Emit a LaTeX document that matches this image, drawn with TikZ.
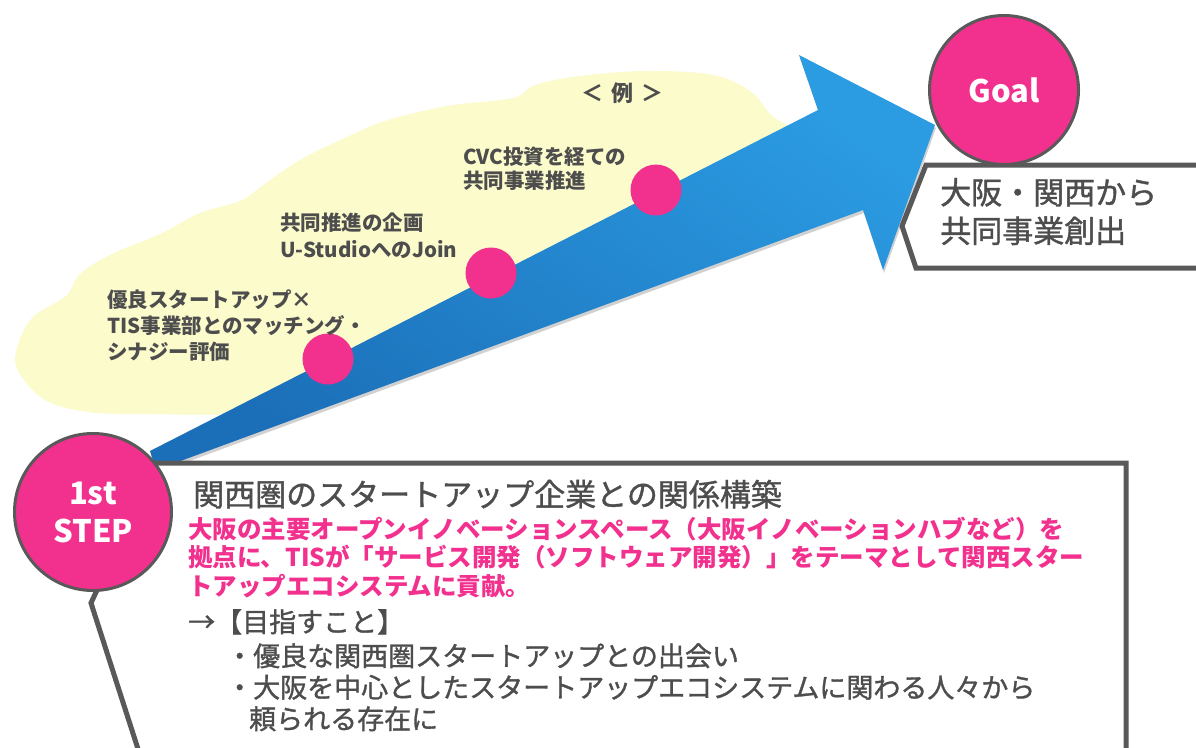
\documentclass[tikz,border=0pt]{standalone}
\usepackage{fontspec}
\setmainfont{Noto Sans CJK JP}
\newfontfamily\mediumfont[FakeBold=1.2]{Noto Sans CJK JP}
\usepackage{tikz}
\usetikzlibrary{positioning,calc}

\definecolor{stepPink}{HTML}{F2318F}
\definecolor{lineGray}{HTML}{595959}
\definecolor{textGray}{HTML}{4D4D4D}
\definecolor{cloudYellow}{HTML}{FBFBCC}
\definecolor{arrowLight}{HTML}{2B9BE2}
\definecolor{arrowDark}{HTML}{1B6FB8}

\newcommand{\arrowshape}{(150,451) -- (818,110) -- (799,55) -- (935,125) -- (883,270) -- (863,210) -- (156,470) -- cycle}

\begin{document}
\begin{tikzpicture}[
    x=1pt, y=-1pt,
    % Styles
    milestone/.style={
        circle,
        draw=lineGray,
        line width=3pt,
        fill=stepPink,
        text=white,
        align=center,
        inner sep=0pt,
        font=\fontsize{31}{38}\selectfont\bfseries
    },
    stepdot/.style={
        circle,
        fill=stepPink,
        minimum size=51pt,
        inner sep=0pt
    },
    cloudtext/.style={
        anchor=base west,
        align=left,
        inner sep=0pt,
        text=textGray,
        font=\fontsize{20.5}{26}\selectfont\bfseries
    },
    bodytext/.style={
        anchor=base west,
        align=left,
        inner sep=0pt,
        text=textGray,
        font=\mediumfont\fontsize{27}{31.5}\selectfont
    },
    pinktext/.style={
        anchor=base west,
        align=left,
        inner sep=0pt,
        text=stepPink,
        font=\fontsize{24.5}{28.5}\selectfont\bfseries
    },
    % Shape Styles
    callout/.style={draw=lineGray, line width=5pt, fill=white, line join=miter},
    bigarrow/.style={top color=arrowLight, bottom color=arrowDark, shading angle=-35}
]

\useasboundingbox (0,0) rectangle (1196,747);
\fill[white] (0,0) rectangle (1196,747);

% --- Cloud and Arrow ---
\fill[cloudYellow] plot[smooth cycle, tension=0.6] coordinates {
    (16,352) (32,318) (66,296) (80,274) (112,254) (160,234) (200,213)
    (240,201) (262,186) (300,160) (345,138) (385,121) (447,106) (513,98)
    (535,85) (580,76) (647,71) (713,75) (750,91) (770,114) (795,140)
    (760,200) (500,330) (300,405) (230,414) (150,414) (88,412) (45,400) (20,374)};

\begin{scope}[xshift=1pt, yshift=-3pt]
\fill[black, opacity=0.18] \arrowshape;
\end{scope}
\shade[bigarrow] \arrowshape;

% Milestones on the arrow
\node[stepdot] (Match) at (328,359) {};
\node[stepdot] (Plan) at (491,273) {};
\node[stepdot] (Invest) at (656,190) {};

% --- Cloud Texts (base = last line) ---
\node[cloudtext, font=\fontsize{22}{26}\selectfont\bfseries] (Example) at (581,101) {＜\hspace{8pt}例\hspace{8pt}＞};
\node[cloudtext, font=\fontsize{20.5}{23.5}\selectfont\bfseries] (InvestText) at (463,188) {CVC投資を経ての\\共同事業推進};
\node[cloudtext, font=\fontsize{20.5}{26.5}\selectfont\bfseries] (PlanText) at (280,257) {共同推進の企画\\U-StudioへのJoin};
\node[cloudtext] (MatchText) at (107,359.6) {優良スタートアップ×\\TIS事業部とのマッチング・\\シナジー評価};

% --- Goal ---
\draw[callout] (1210,165) -- (926,165) -- (902,226) -- (916,268) -- (1210,268) -- cycle;
\node[milestone, minimum size=149pt] (Goal) at (1004,90) {Goal};
\node[bodytext, font=\mediumfont\fontsize{31}{38.5}\selectfont] (GoalText) at (940,242.5) {大阪・関西から\\共同事業創出};

% --- 1st STEP ---
\draw[callout] (148,780) -- (91,603) -- (156,463) -- (1126,463) -- (1126,780) -- cycle;
\node[milestone, minimum size=157pt] (Step) at (93,512) {1st\\STEP};

\node[bodytext, font=\mediumfont\fontsize{31}{36}\selectfont] (Title) at (193,506) {関西圏のスタートアップ企業との関係構築};
\node[pinktext] (Detail) at (188,595.3) {大阪の主要オープンイノベーションスペース（大阪イノベーションハブなど）を\\拠点に、TISが「サービス開発（ソフトウェア開発）」をテーマとして関西スター\\トアップエコシステムに貢献。};
\node[bodytext] (AimHead) at (188,632) {→【目指すこと】};
\node[bodytext] (AimList) at (226,729) {・優良な関西圏スタートアップとの出会い\\・大阪を中心としたスタートアップエコシステムに関わる人々から\\\hspace{23pt}頼られる存在に};

\end{tikzpicture}
\end{document}
